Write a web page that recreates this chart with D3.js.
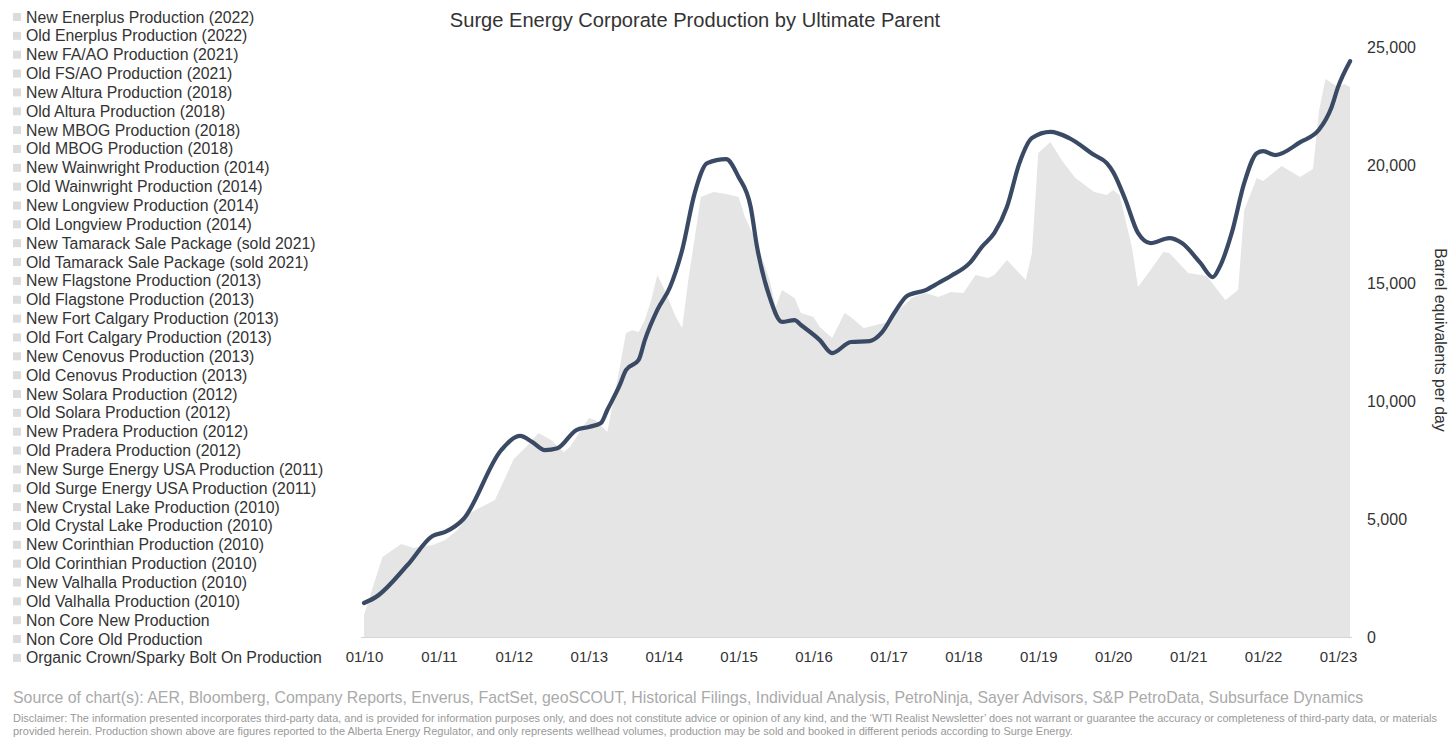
<!DOCTYPE html>
<html>
<head>
<meta charset="utf-8">
<script src="https://cdn.jsdelivr.net/npm/d3@7"></script>
<style>
  body { margin: 0; background: #fff; }
  svg { font-family: "Liberation Sans", Arial, sans-serif; }
</style>
</head>
<body>
<svg></svg>
<script>
// legend entries (all drawn in the same grey in the source chart)
var legendNames = [
  "New Enerplus Production (2022)", "Old Enerplus Production (2022)",
  "New FA/AO Production (2021)", "Old FS/AO Production (2021)",
  "New Altura Production (2018)", "Old Altura Production (2018)",
  "New MBOG Production (2018)", "Old MBOG Production (2018)",
  "New Wainwright Production (2014)", "Old Wainwright Production (2014)",
  "New Longview Production  (2014)", "Old Longview Production (2014)",
  "New Tamarack Sale Package (sold 2021)", "Old Tamarack Sale Package (sold 2021)",
  "New Flagstone Production (2013)", "Old Flagstone Production (2013)",
  "New Fort Calgary Production (2013)", "Old Fort Calgary Production (2013)",
  "New Cenovus Production (2013)", "Old Cenovus Production (2013)",
  "New Solara Production (2012)", "Old Solara Production (2012)",
  "New Pradera Production (2012)", "Old Pradera Production (2012)",
  "New Surge Energy USA Production (2011)", "Old Surge Energy USA Production (2011)",
  "New Crystal Lake Production (2010)", "Old Crystal Lake Production (2010)",
  "New Corinthian Production (2010)", "Old Corinthian Production (2010)",
  "New Valhalla Production (2010)", "Old Valhalla Production (2010)",
  "Non Core New Production", "Non Core Old Production",
  "Organic Crown/Sparky Bolt On Production"
];

// stacked total of all parent groups (grey area)
var areaMonths = ["2010-01","2010-04","2010-07","2010-09","2010-12","2011-02","2011-04","2011-06","2011-10",
  "2012-01","2012-03","2012-05","2012-07","2012-09","2012-10","2013-01","2013-02","2013-04","2013-06","2013-07",
  "2013-08","2013-09","2013-10","2013-11","2013-12","2014-01","2014-03","2014-04","2014-05","2014-07","2014-09",
  "2014-11","2015-01","2015-02","2015-04","2015-06","2015-07","2015-08","2015-10","2015-11","2016-01","2016-02",
  "2016-04","2016-06","2016-07","2016-09","2016-11","2017-01","2017-03","2017-05","2017-07","2017-09","2017-11",
  "2018-01","2018-03","2018-05","2018-06","2018-08","2018-11","2018-12","2019-01","2019-03","2019-05","2019-07",
  "2019-10","2019-12","2020-01","2020-02","2020-04","2020-05","2020-07","2020-09","2020-10","2021-01","2021-04",
  "2021-07","2021-09","2021-10","2021-12","2022-01","2022-04","2022-07","2022-09","2022-10","2022-11","2023-01",
  "2023-02","2023-03"];
var areaValues = [930,3390,3940,3770,3900,4110,4530,5250,5810,
  7540,8050,8640,8350,7840,8050,9280,9190,8690,11440,12880,
  13000,12920,13430,14280,15340,14790,13560,13090,15130,18640,18860,
  18770,18640,17800,16690,15130,13980,14700,14360,13730,13560,13140,
  12670,13730,13560,13090,13220,13350,13940,14410,14580,14410,14620,
  14580,15340,15210,15340,15970,15130,16270,20510,20970,20130,19450,
  18860,18730,18940,18730,16530,14830,15550,16310,16270,15420,15300,
  14280,14700,18090,19450,19320,19960,19490,19830,22330,23640,23310,
  23430,23310];

// corporate production line
var lineMonths = ["2010-01","2010-03","2010-08","2010-12","2011-02","2011-05","2011-11","2012-02","2012-04",
  "2012-06","2012-08","2012-11","2013-01","2013-03","2013-04","2013-06","2013-07","2013-09","2013-10","2013-12",
  "2014-02","2014-04","2014-06","2014-08","2014-11","2015-01","2015-03","2015-04","2015-06","2015-08","2015-10",
  "2015-11","2016-02","2016-04","2016-07","2016-10","2016-12","2017-02","2017-04","2017-07","2017-09","2017-11",
  "2018-02","2018-04","2018-06","2018-08","2018-10","2018-12","2019-03","2019-06","2019-10","2019-12","2020-01",
  "2020-03","2020-05","2020-07","2020-10","2020-12","2021-03","2021-05","2021-06","2021-08","2021-10","2021-12",
  "2022-01","2022-03","2022-07","2022-10","2022-12","2023-01","2023-03"];
var lineValues = [1440,1700,3050,4280,4450,5000,7920,8520,8260,
  7920,8000,8770,8900,9070,9620,10680,11310,11740,12580,13860,
  14830,16400,18810,20080,20250,19490,18220,16530,14410,13350,13430,
  13220,12580,12030,12500,12540,12920,13770,14450,14700,15000,15300,
  15850,16530,17120,18220,20080,21140,21400,21140,20420,20080,19700,
  18520,17120,16690,16900,16690,15850,15250,15640,17120,19240,20500,
  20590,20420,20970,21500,22460,23300,24400];

var xTickLabels = ["01/10","01/11","01/12","01/13","01/14","01/15","01/16","01/17","01/18","01/19","01/20","01/21","01/22","01/23"];
var yTicks = [0, 5000, 10000, 15000, 20000, 25000];

var width = 1456, height = 752;
var parse = d3.timeParse("%Y-%m");
var fmt = d3.timeFormat("%m/%y");

var svg = d3.select("svg")
    .attr("width", width)
    .attr("height", height);

var x = d3.scaleTime()
    .domain([parse("2010-01"), parse("2023-01")])
    .range([364, 1338]);
var y = d3.scaleLinear()
    .domain([0, 25000])
    .range([637, 47]);

// area
var areaData = areaMonths.map((m, i) => ({date: parse(m), value: areaValues[i]}));
svg.append("path")
    .datum(areaData)
    .attr("fill", "#e5e5e5")
    .attr("d", d3.area().x(d => x(d.date)).y0(y(0)).y1(d => y(d.value)));

svg.append("line")
    .attr("x1", x(parse("2010-01")) - 3).attr("x2", x(parse("2023-03")) + 2)
    .attr("y1", y(0) + 0.5).attr("y2", y(0) + 0.5)
    .attr("stroke", "#d4d4d4");

// line
var lineData = lineMonths.map((m, i) => ({date: parse(m), value: lineValues[i]}));
svg.append("path")
    .datum(lineData)
    .attr("fill", "none")
    .attr("stroke", "#3a4a64")
    .attr("stroke-width", 4.2)
    .attr("stroke-linecap", "round")
    .attr("stroke-linejoin", "round")
    .attr("d", d3.line().curve(d3.curveMonotoneX).x(d => x(d.date)).y(d => y(d.value)));

// x axis
var xAxis = d3.axisBottom(x)
    .tickValues(xTickLabels.map(t => d3.timeParse("%m/%y")(t)))
    .tickFormat(fmt)
    .tickSize(0)
    .tickPadding(0);
var gx = svg.append("g")
    .attr("transform", "translate(0,651)")
    .call(xAxis);
gx.select(".domain").remove();
gx.selectAll("text").attr("font-size", 15).attr("fill", "#333").attr("font-family", null);

// y axis on the right
var yAxis = d3.axisRight(y)
    .tickValues(yTicks)
    .tickFormat(d3.format(","))
    .tickSize(0)
    .tickPadding(0);
var gy = svg.append("g")
    .attr("transform", "translate(1367,0)")
    .call(yAxis);
gy.select(".domain").remove();
gy.selectAll("text").attr("font-size", 16).attr("fill", "#333").attr("font-family", null);

svg.append("text")
    .attr("transform", "translate(1435,340) rotate(90)")
    .attr("text-anchor", "middle")
    .attr("font-size", 15.8)
    .attr("fill", "#333")
    .text("Barrel equivalents per day");

// title
svg.append("text")
    .attr("x", 695).attr("y", 27)
    .attr("text-anchor", "middle")
    .attr("font-size", 20.1)
    .attr("fill", "#333")
    .text("Surge Energy Corporate Production by Ultimate Parent");

// legend
var legend = svg.append("g").selectAll("g")
    .data(legendNames)
    .join("g")
    .attr("transform", (d, i) => "translate(0," + (17 + i * 18.85) + ")");
legend.append("rect")
    .attr("x", 13).attr("y", -4).attr("width", 8).attr("height", 8)
    .attr("fill", "#dcdcdc");
legend.append("text")
    .attr("x", 26).attr("dy", "0.35em")
    .attr("font-size", 15.8)
    .attr("fill", "#333")
    .text(d => d);

// footer
svg.append("text")
    .attr("x", 13).attr("y", 703)
    .attr("font-size", 15.9)
    .attr("fill", "#aaa")
    .text("Source of chart(s): AER, Bloomberg, Company Reports, Enverus, FactSet, geoSCOUT, Historical Filings, Individual Analysis, PetroNinja, Sayer Advisors, S&P PetroData, Subsurface Dynamics");
svg.append("text")
    .attr("x", 13).attr("y", 722)
    .attr("font-size", 11)
    .attr("fill", "#999")
    .attr("textLength", 1424)
    .attr("lengthAdjust", "spacingAndGlyphs")
    .text("Disclaimer: The information presented incorporates third-party data, and is provided for information purposes only, and does not constitute advice or opinion of any kind, and the \u2018WTI Realist Newsletter\u2019 does not warrant or guarantee the accuracy or completeness of third-party data, or materials");
svg.append("text")
    .attr("x", 13).attr("y", 735)
    .attr("font-size", 11)
    .attr("fill", "#999")
    .text("provided herein. Production shown above are figures reported to the Alberta Energy Regulator, and only represents wellhead volumes, production may be sold and booked in different periods according to Surge Energy.");
</script>
</body>
</html>
